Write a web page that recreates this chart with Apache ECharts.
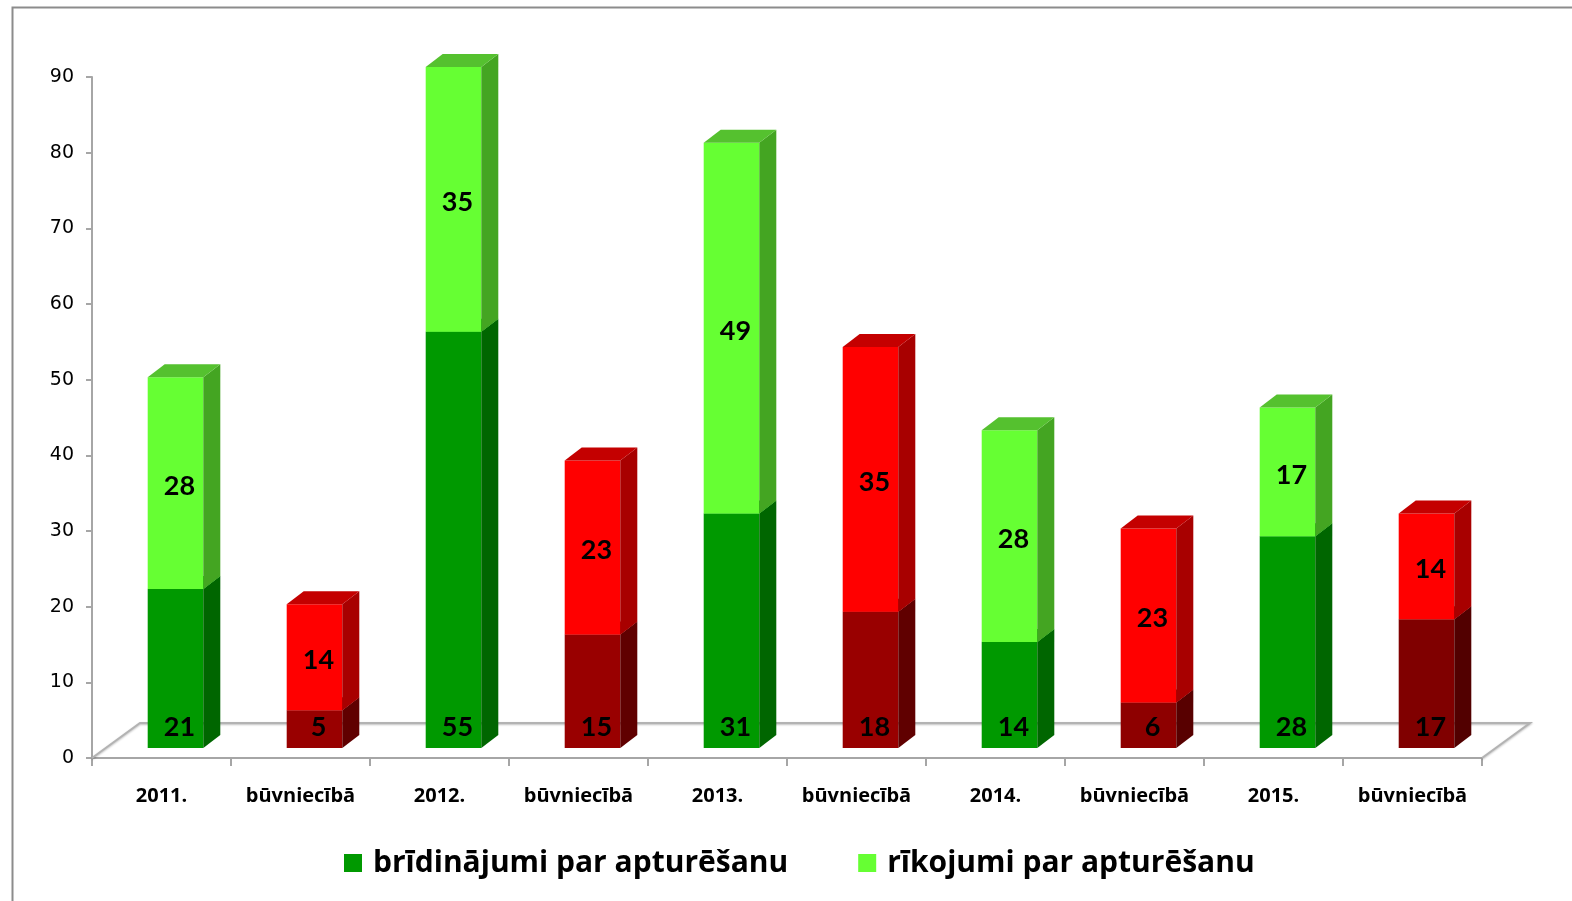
<!DOCTYPE html>
<html>
<head>
<meta charset="utf-8">
<script src="https://cdn.jsdelivr.net/npm/echarts@6/dist/echarts.min.js"></script>
<style>
  html, body { margin: 0; padding: 0; background: #fff; }
  #chart { width: 1572px; height: 901px; }
</style>
</head>
<body>
<div id="chart"></div>
<script>
// ---- data ----
const categories = ['2011.', 'būvniecībā', '2012.', 'būvniecībā', '2013.', 'būvniecībā', '2014.', 'būvniecībā', '2015.', 'būvniecībā'];
const bridinajumi = [21, 5, 55, 15, 31, 18, 14, 6, 28, 17];
const rikojumi = [28, 14, 35, 23, 49, 35, 28, 23, 17, 14];
const seriesNames = ['brīdinājumi par apturēšanu', 'rīkojumi par apturēšanu'];
const yMin = 0, yMax = 90, yStep = 10;

// ---- styles ----
const bottomStyles = [
  { front: '#009900', side: '#006600', top: '#00b000' },
  { front: '#990000', side: '#600000', top: '#b00000' },
  { front: '#009900', side: '#006600', top: '#00b000' },
  { front: '#990000', side: '#600000', top: '#b00000' },
  { front: '#009900', side: '#006600', top: '#00b000' },
  { front: '#990000', side: '#600000', top: '#b00000' },
  { front: '#009900', side: '#006600', top: '#00b000' },
  { front: '#8e0000', side: '#580000', top: '#a00000' },
  { front: '#009900', side: '#006600', top: '#00b000' },
  { front: '#800000', side: '#520000', top: '#a00000' }
];
const topGreen = { front: '#66ff33', side: '#44a522', top: '#55c12f' };
const topRed = { front: '#ff0000', side: '#a80000', top: '#c40000' };
const topStyles = categories.map((c, i) => (i % 2 === 0 ? topGreen : topRed));

const DEPTH_X = 48, DEPTH_Y = -35;       // floor depth
const FRONT_DX = 14, FRONT_DY = -10;     // bar front face offset inside floor
const SIDE_DX = 17, SIDE_DY = -13;       // bar depth
const BAR_FRAC = 0.4;

function makeBar(params, api, styles, isBottom) {
  const i = api.value(0);
  const v0 = api.value(1);
  const v1 = api.value(2);
  const p0 = api.coord([i, v0]);
  const p1 = api.coord([i, v1]);
  const bw = api.size([1, 0])[0] * BAR_FRAC;
  const x0 = p0[0] - bw / 2 + FRONT_DX;
  const x1 = x0 + bw;
  const yb = p0[1] + FRONT_DY;
  const yt = p1[1] + FRONT_DY;
  const st = styles[params.dataIndex];
  let labelY;
  if (isBottom) {
    labelY = api.coord([i, 3])[1] + FRONT_DY + 2;
  } else {
    labelY = (yb + yt) / 2 + 3;
  }
  return {
    type: 'group',
    children: [
      { type: 'rect', shape: { x: x0, y: yt, width: bw, height: yb - yt }, style: { fill: st.front } },
      { type: 'polygon', shape: { points: [[x1, yt], [x1 + SIDE_DX, yt + SIDE_DY], [x1 + SIDE_DX, yb + SIDE_DY], [x1, yb]] }, style: { fill: st.side } },
      { type: 'polygon', shape: { points: [[x0, yt], [x0 + SIDE_DX, yt + SIDE_DY], [x1 + SIDE_DX, yt + SIDE_DY], [x1, yt]] }, style: { fill: st.top } },
      { type: 'text', x: (x0 + x1) / 2 + 4, y: labelY, z2: 10,
        style: { text: String(Math.round(v1 - v0)), font: 'bold 27px Lato', fill: '#000', align: 'center', verticalAlign: 'middle' } }
    ]
  };
}

const bottomData = categories.map((c, i) => [i, 0, bridinajumi[i]]);
const topData = categories.map((c, i) => [i, bridinajumi[i], bridinajumi[i] + rikojumi[i]]);

const chart = echarts.init(document.getElementById('chart'), null, { renderer: 'canvas' });
chart.setOption({
  backgroundColor: '#ffffff',
  animation: false,
  graphic: [{
    type: 'rect', left: 10, top: 5, shape: { x: 0, y: 0, width: 1600, height: 1000 },
    style: { fill: 'none', stroke: '#8c8c8c', lineWidth: 2 }, silent: true
  }],
  grid: { left: 92, right: 90, top: 77, bottom: 143 },
  legend: {
    data: seriesNames,
    left: 339, top: 843,
    itemWidth: 18, itemHeight: 18, itemGap: 70,
    icon: 'rect',
    textStyle: { fontFamily: 'Open Sans', fontWeight: 'bold', fontSize: 30, color: '#000', padding: [0, 0, 0, 6] }
  },
  xAxis: {
    type: 'category',
    data: categories,
    boundaryGap: true,
    axisLine: { show: true, lineStyle: { color: '#a6a6a6', width: 2 } },
    axisTick: { show: true, interval: 0, length: 8, lineStyle: { color: '#a6a6a6', width: 2 } },
    axisLabel: { interval: 0, margin: 28, fontFamily: 'Open Sans', fontWeight: 'bold', fontSize: 20, color: '#000' },
    splitLine: { show: false }
  },
  yAxis: {
    type: 'value',
    min: yMin, max: yMax, interval: yStep,
    axisLine: { show: true, lineStyle: { color: '#a6a6a6', width: 2 } },
    axisTick: { show: true, length: 6, lineStyle: { color: '#a6a6a6', width: 2 } },
    axisLabel: { margin: 18, fontFamily: 'DejaVu Sans', fontSize: 19, color: '#000' },
    splitLine: { show: false }
  },
  series: [
    {
      name: 'floor', type: 'custom', z: 1, silent: true,
      data: [[0, 0]],
      renderItem: function (params, api) {
        const cs = params.coordSys;
        const yf = cs.y + cs.height;
        return {
          type: 'polyline',
          shape: { points: [[cs.x, yf], [cs.x + DEPTH_X, yf + DEPTH_Y], [cs.x + cs.width + DEPTH_X, yf + DEPTH_Y], [cs.x + cs.width, yf]] },
          style: { stroke: '#b3b3b3', lineWidth: 2, fill: null, shadowColor: 'rgba(0,0,0,0.25)', shadowBlur: 2, shadowOffsetY: 1 }
        };
      }
    },
    {
      name: seriesNames[0], type: 'custom', z: 2,
      itemStyle: { color: '#009900' },
      encode: { x: 0, y: 2 },
      data: bottomData,
      renderItem: function (params, api) { return makeBar(params, api, bottomStyles, true); }
    },
    {
      name: seriesNames[1], type: 'custom', z: 3,
      itemStyle: { color: '#66ff33' },
      encode: { x: 0, y: 2 },
      data: topData,
      renderItem: function (params, api) { return makeBar(params, api, topStyles, false); }
    }
  ]
});
</script>
</body>
</html>
